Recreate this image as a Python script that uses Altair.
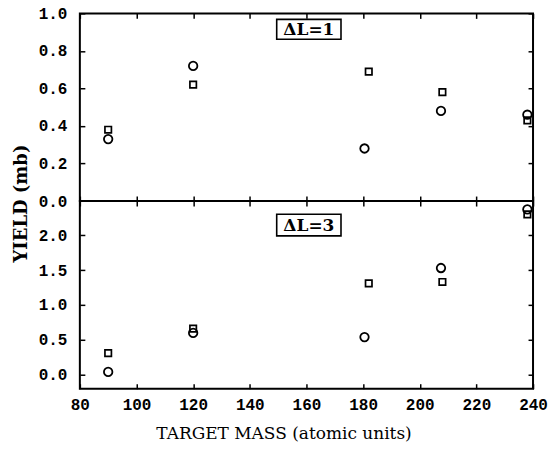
import altair as alt
import pandas as pd

# Target masses (atomic units)
mass_circle = [90, 120, 180.5, 207.5, 238]
mass_square = [90, 120, 182, 208, 238]

# Delta L = 1 yields (mb)
dl1_circle = [0.33, 0.72, 0.28, 0.48, 0.46]
dl1_square = [0.38, 0.62, 0.69, 0.58, 0.43]

# Delta L = 3 yields (mb)
dl3_circle = [0.04, 0.60, 0.54, 1.53, 2.37]
dl3_square = [0.31, 0.66, 1.31, 1.33, 2.30]

x_ticks = [80, 100, 120, 140, 160, 180, 200, 220, 240]
top_ticks = [0.0, 0.2, 0.4, 0.6, 0.8, 1.0]
bottom_ticks = [0.0, 0.5, 1.0, 1.5, 2.0]

TICK_FONT = "Liberation Mono"
TITLE_FONT = "DejaVu Serif"
W, H = 454, 188
X_DOMAIN = [80, 240]
TICK_LEN = 5
TICK_COLOR = "black"


def panel(circ, sq, y_domain, y_ticks, label, label_box, bottom_panel):
    xs = alt.Scale(domain=X_DOMAIN, nice=False, zero=False)
    ys = alt.Scale(domain=y_domain, nice=False, zero=False)

    x_axis = alt.Axis(
        values=x_ticks, orient="bottom", offset=-TICK_LEN, tickSize=TICK_LEN, domain=False,
        grid=False, labels=bottom_panel, labelPadding=8, labelFlush=False,
        labelFont=TICK_FONT, labelFontSize=16, labelFontWeight="bold", labelColor="black",
        ticks=True, tickColor=TICK_COLOR, tickWidth=1.5, zindex=2,
        title="TARGET MASS (atomic units)" if bottom_panel else None,
        titleFont=TITLE_FONT, titleFontSize=17, titleFontWeight="normal",
        titleColor="black", titlePadding=13, titleX=204, titleAnchor="middle",
    )
    y_kwargs = dict(
        values=y_ticks, orient="left", offset=-TICK_LEN, tickSize=TICK_LEN, domain=False,
        grid=False, format=".1f", labelPadding=13, labelFlush=False,
        labelFont=TICK_FONT, labelFontSize=16, labelFontWeight="bold", labelColor="black",
        ticks=True, tickColor=TICK_COLOR, tickWidth=1.5, zindex=2,
    )
    if bottom_panel:
        y_axis = alt.Axis(title=None, **y_kwargs)
    else:
        y_axis = alt.Axis(
            title="YIELD (mb)", titleFont=TITLE_FONT, titleFontSize=18,
            titleFontWeight="bold", titleColor="black", titleAngle=270,
            titleX=-63, titleY=190, titleAlign="center", titleBaseline="middle",
            **y_kwargs,
        )

    circles = pd.DataFrame({"mass": mass_circle, "yield": circ})
    squares = pd.DataFrame({"mass": mass_square, "yield": sq})

    enc = dict(
        x=alt.X("mass:Q", scale=xs, axis=x_axis),
        y=alt.Y("yield:Q", scale=ys, axis=y_axis),
    )
    c_layer = alt.Chart(circles).mark_point(
        shape="circle", filled=False, stroke="black", strokeWidth=1.8,
        size=72, opacity=1, clip=False
    ).encode(**enc)
    s_layer = alt.Chart(squares).mark_point(
        shape="square", filled=False, stroke="black", strokeWidth=1.7,
        size=42, opacity=1, clip=False
    ).encode(**enc)

    bx0, bx1, by0, by1 = label_box
    box_df = pd.DataFrame({"x0": [bx0], "x1": [bx1], "y0": [by0], "y1": [by1],
                           "xc": [(bx0 + bx1) / 2], "yc": [(by0 + by1) / 2],
                           "txt": [label]})
    box = alt.Chart(box_df).mark_rect(
        fill="white", stroke="black", strokeWidth=1.6
    ).encode(
        x=alt.X("x0:Q", scale=xs, axis=x_axis), x2="x1:Q",
        y=alt.Y("y0:Q", scale=ys, axis=y_axis), y2="y1:Q",
    )
    text = alt.Chart(box_df).mark_text(
        font=TITLE_FONT, fontSize=17, fontWeight="bold", color="black",
        baseline="middle", align="center", dy=1
    ).encode(
        x=alt.X("xc:Q", scale=xs, axis=x_axis),
        y=alt.Y("yc:Q", scale=ys, axis=y_axis),
        text="txt:N",
    )

    # Inward ticks along the top and right edges of the frame
    edge = alt.Chart(box_df).mark_point(opacity=0).encode(
        x=alt.X("xc:Q", scale=alt.Scale(domain=X_DOMAIN, nice=False, zero=False),
                axis=alt.Axis(values=x_ticks, orient="top", offset=-TICK_LEN, tickSize=TICK_LEN,
                              domain=False, grid=False, labels=False, title=None,
                              ticks=True, tickColor=TICK_COLOR, tickWidth=1.5, zindex=2)),
        y=alt.Y("yc:Q", scale=alt.Scale(domain=y_domain, nice=False, zero=False),
                axis=alt.Axis(values=y_ticks, orient="right", offset=-TICK_LEN, tickSize=TICK_LEN,
                              domain=False, grid=False, labels=False, title=None,
                              ticks=True, tickColor=TICK_COLOR, tickWidth=1.5, zindex=2)),
    )

    main = alt.layer(box, text, c_layer, s_layer)
    return alt.layer(main, edge).resolve_scale(x="independent", y="independent").properties(
        width=W, height=H,
        view=alt.ViewBackground(stroke="black", strokeWidth=2, fill="white"),
    )


top = panel(dl1_circle, dl1_square, [0.0, 1.0], top_ticks, "\u0394L=1",
            (149.5, 172.2, 0.862, 0.968), False)
bottom = panel(dl3_circle, dl3_square, [-0.2, 2.49], bottom_ticks, "\u0394L=3",
               (149.5, 172.2, 1.99, 2.30), True)

chart = alt.vconcat(top, bottom, spacing=0, bounds="flush").properties(
    padding={"left": 12, "top": 4, "right": 0, "bottom": 0},
    background="white",
).configure_view(
    stroke="black", strokeWidth=2
)

chart.save("out.html", embed_options={"renderer": "svg", "actions": False})
